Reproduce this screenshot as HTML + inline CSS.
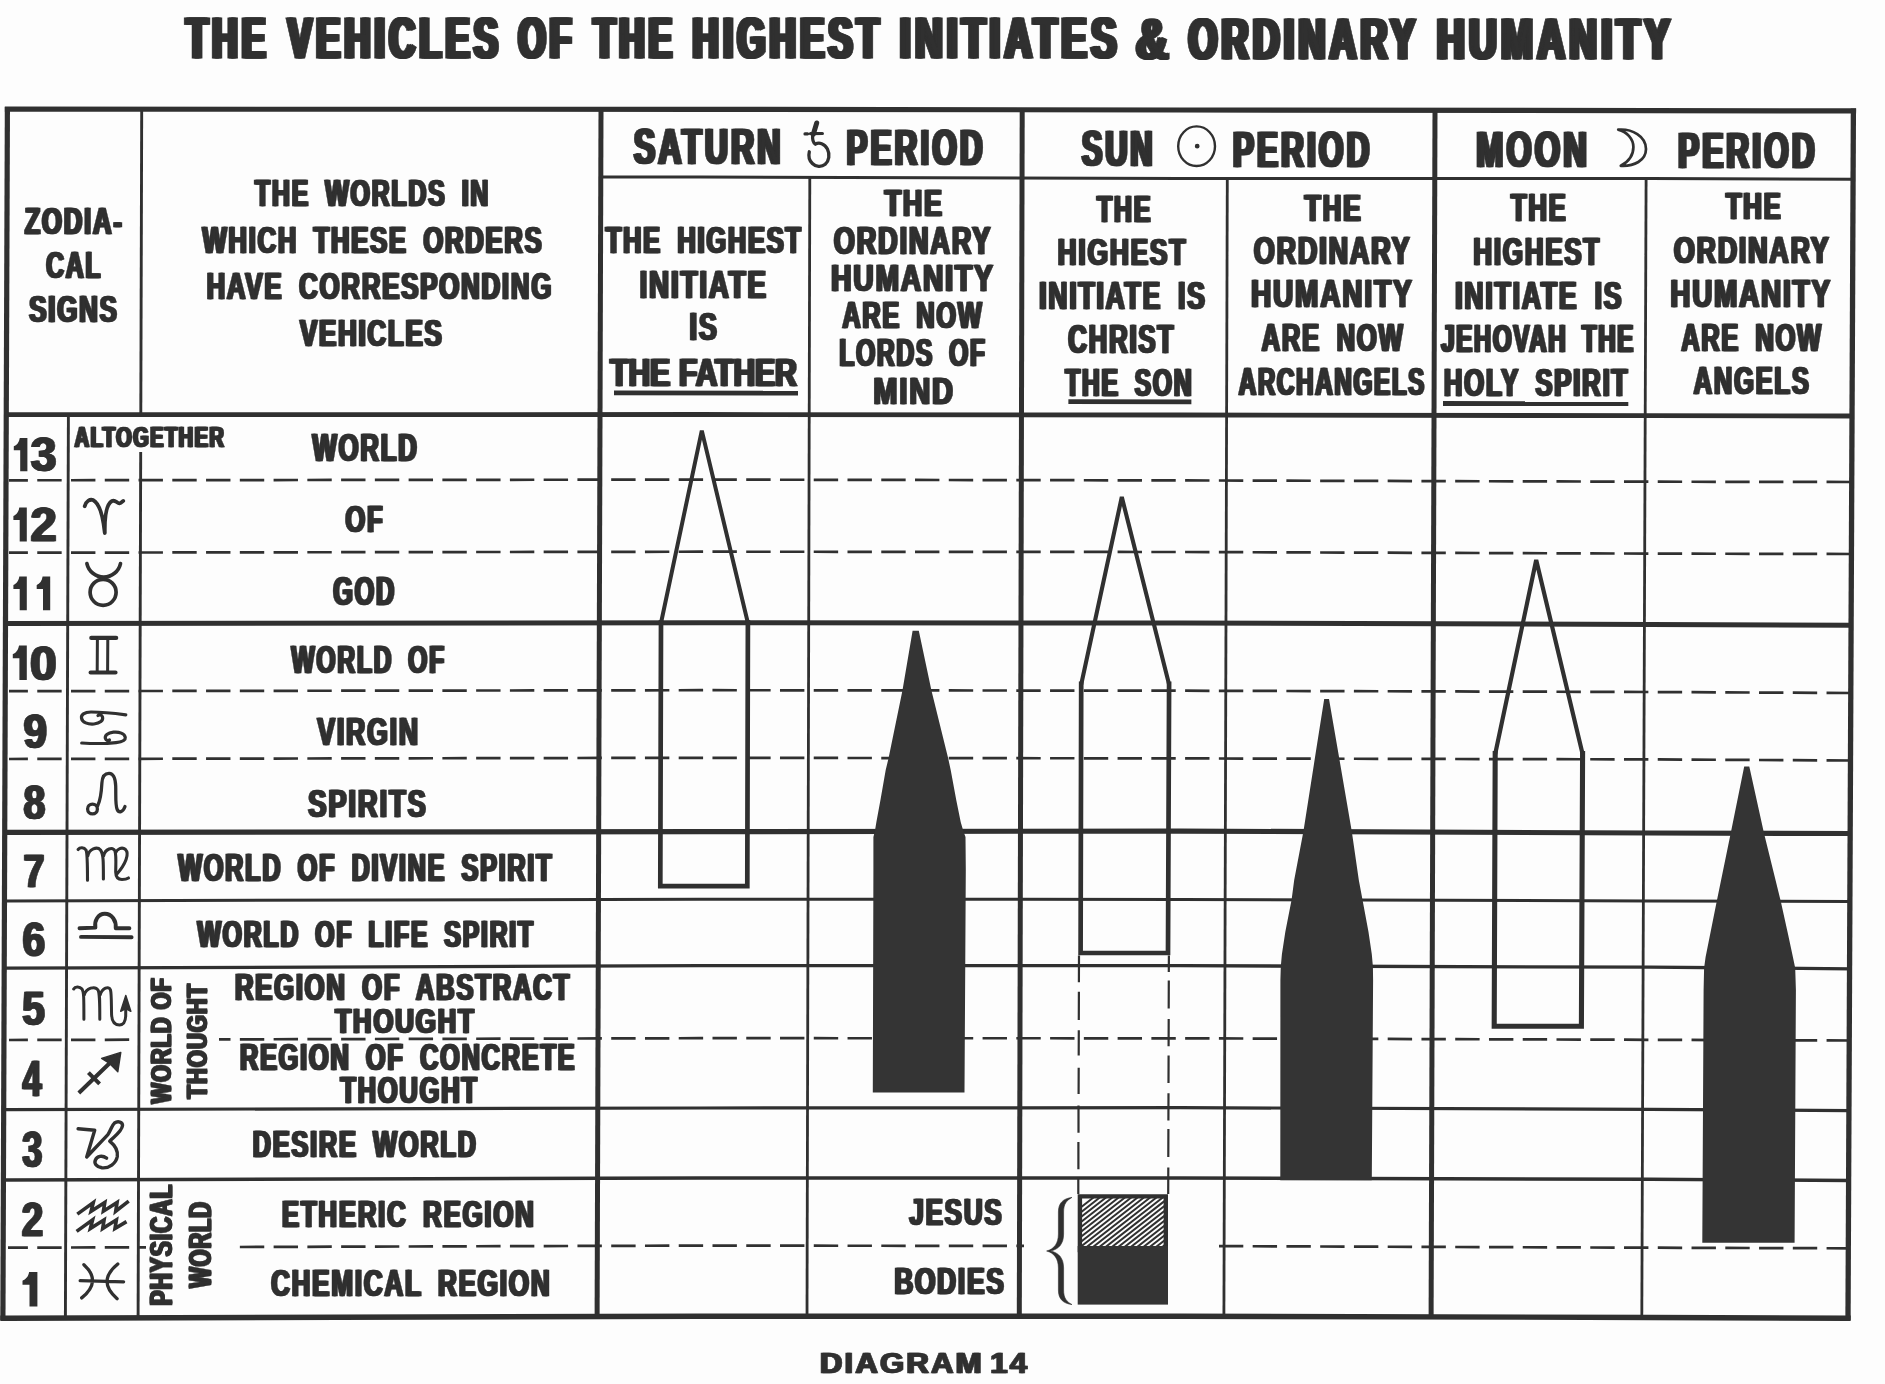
<!DOCTYPE html>
<html><head><meta charset="utf-8"><title>Diagram 14</title>
<style>html,body{margin:0;padding:0;background:#fdfdfd}body{width:1885px;height:1384px;overflow:hidden;font-family:"Liberation Sans",sans-serif}svg{display:block}</style>
</head><body>
<svg width="1885" height="1384" viewBox="0 0 1885 1384">
<defs><filter id="gs" filterUnits="userSpaceOnUse" x="0" y="0" width="1885" height="1384" color-interpolation-filters="sRGB"><feColorMatrix type="saturate" values="0"/></filter><filter id="soft" filterUnits="userSpaceOnUse" x="0" y="0" width="1885" height="1384" color-interpolation-filters="sRGB"><feGaussianBlur stdDeviation="0.45"/></filter></defs>
<rect width="1885" height="1384" fill="#fdfdfd"/>
<g filter="url(#soft)">

<g fill="none" stroke="#303030" stroke-linecap="butt">
<path d="M4.8,109.2 L5.0,109.2 L700.0,109.3 L1180.0,110.0 L1650.0,110.6 L1853.0,110.9 L1856.1,110.9" stroke-width="5.2"/>
<path d="M0.3,1318.2 L5.0,1318.2 L700.0,1316.2 L1180.0,1316.2 L1650.0,1317.5 L1850.7,1318.2" stroke-width="5.4"/>
<path d="M7.4,107.0 L2.9,1320.0" stroke-width="5.2"/>
<path d="M1853.4,108.5 L1848.0,1320.0" stroke-width="5.3"/>
<path d="M601.0,110.0 L597.1,1318.0" stroke-width="5"/>
<path d="M1022.2,110.0 L1019.3,1318.0" stroke-width="5"/>
<path d="M1435.0,110.0 L1431.1,1318.0" stroke-width="5"/>
<path d="M68.4,414.7 L65.4,1318.0" stroke-width="2.9"/>
<path d="M141.7,110.0 L140.8,414.7" stroke-width="2.9"/>
<path d="M140.7,452.0 L138.1,1318.0" stroke-width="2.9"/>
<path d="M809.8,177.4 L807.0,1318.0" stroke-width="2.8"/>
<path d="M1227.3,178.5 L1223.9,1318.0" stroke-width="2.8"/>
<path d="M1646.1,178.5 L1641.8,1318.0" stroke-width="2.8"/>
<path d="M601.0,177.1 L700.0,177.1 L1180.0,178.5 L1650.0,178.5 L1853.0,179.2" stroke-width="3"/>
<path d="M5.0,414.7 L700.0,414.5 L1180.0,415.0 L1650.0,415.7 L1853.0,416.0" stroke-width="4.8"/>
<path d="M5.0,623.4 L700.0,622.8 L1180.0,623.1 L1650.0,624.4 L1852.0,625.3" stroke-width="5"/>
<path d="M5.0,832.4 L700.0,831.6 L1180.0,831.1 L1650.0,833.0 L1851.0,833.5" stroke-width="5.2"/>
<path d="M5.0,901.0 L700.0,899.2 L1180.0,899.4 L1650.0,900.9 L1851.0,901.5" stroke-width="3"/>
<path d="M5.0,968.2 L700.0,965.7 L1180.0,965.7 L1650.0,967.2 L1851.0,968.8" stroke-width="3.3"/>
<path d="M4.0,1109.6 L5.0,1109.6 L700.0,1108.0 L1180.0,1107.7 L1650.0,1109.4 L1850.0,1110.6" stroke-width="3.2"/>
<path d="M4.0,1180.0 L5.0,1180.0 L700.0,1178.0 L1180.0,1178.0 L1650.0,1179.3 L1850.0,1180.5" stroke-width="3.4"/>
<path d="M9.0,480.3 L700.0,479.6 L1180.0,480.4 L1650.0,481.7 L1851.0,482.0" stroke-width="2.7" stroke-dasharray="24.4 9.36" stroke-dashoffset="5.5"/>
<path d="M9.0,552.7 L700.0,551.7 L1180.0,552.0 L1650.0,553.6 L1851.0,554.0" stroke-width="2.7" stroke-dasharray="24.4 9.36" stroke-dashoffset="5.5"/>
<path d="M9.0,691.2 L700.0,690.2 L1180.0,690.7 L1650.0,692.0 L1851.0,693.0" stroke-width="2.7" stroke-dasharray="24.4 9.36" stroke-dashoffset="5.5"/>
<path d="M9.0,759.0 L700.0,757.8 L1180.0,758.4 L1650.0,759.4 L1851.0,760.5" stroke-width="2.7" stroke-dasharray="24.4 9.36" stroke-dashoffset="5.5"/>
<path d="M9.0,1040.0 L139.0,1039.7" stroke-width="2.7" stroke-dasharray="24.4 9.36" stroke-dashoffset="5.5"/>
<path d="M219.0,1039.4 L700.0,1038.2 L1180.0,1038.3 L1650.0,1039.8 L1851.0,1040.5" stroke-width="2.7" stroke-dasharray="24.4 9.36" stroke-dashoffset="12.9"/>
<path d="M8.0,1247.7 L146.0,1247.3" stroke-width="2.7" stroke-dasharray="24.4 9.36" stroke-dashoffset="4.5"/>
<path d="M235.0,1247.0 L700.0,1245.6 L1024.0,1245.9" stroke-width="2.7" stroke-dasharray="24.4 9.36" stroke-dashoffset="28.9"/>
<path d="M1219.0,1246.1 L1650.0,1247.7 L1850.0,1248.3" stroke-width="2.7" stroke-dasharray="24.4 9.36" stroke-dashoffset="0.1"/>
</g>
<g fill="#343434" stroke="none">
<path d="M912.6,630.8 L918.8,630.8 L931.5,690.7 L948.1,758 L950.7,770 L956.2,799.7 L960.7,822 L963.3,830.9 L965.5,837 L965.8,870 L964.5,1092.6 L872.8,1092.6 L873.4,870 L873.4,837 L874.9,830.9 L876.4,822 L880.5,799.7 L885.7,770 L888.6,758 L902.4,690.7 Z"/>
<path d="M1324.2,699 L1329,699 L1339.2,758.1 L1351.8,831.5 L1358.8,880 L1362.5,899.7 L1368.5,932 L1371.8,954.3 L1372.9,966.6 L1373.1,980 L1371.8,1180.2 L1280.3,1180.2 L1280.4,980 L1280.8,966.6 L1281.9,954.3 L1285.3,932 L1291.6,899.7 L1294.2,880 L1303.4,831.5 L1314.9,758.1 Z"/>
<path d="M1744.2,766.6 L1749.3,766.6 L1764,833.2 L1780.7,901.1 L1788.1,934.6 L1792.9,956.9 L1795.2,968 L1795.9,990 L1794.6,1242.8 L1702.3,1242.8 L1703.6,990 L1704.1,968 L1705.6,956.9 L1710.1,934.6 L1716.8,901.1 L1730.7,833.2 Z"/>
</g>
<g fill="none" stroke="#303030" stroke-linejoin="miter" stroke-miterlimit="3">
<path d="M661,623 L701.8,430.6 L747.9,623" stroke-width="4.0"/>
<path d="M661,620 L660.3,886.2 L747.3,886.2 L747.9,620" stroke-width="4.7"/>
<path d="M1081.2,684.5 L1121.8,497 L1169.1,684.5" stroke-width="4.1"/>
<path d="M1081.2,681.5 L1080.6,953 L1168,953 L1169.1,681.5" stroke-width="4.7"/>
<path d="M1495.2,754 L1536.2,560 L1582.6,754" stroke-width="4.2"/>
<path d="M1495.2,751 L1494.2,1026.2 L1581.4,1026.2 L1582.6,751" stroke-width="5.1"/>
<path d="M1079,955.4 L1078.9,982.3 M1078.9,991.7 L1078.8,1019.9 M1078.8,1030.2 L1078.7,1055.6 M1078.7,1067.8 L1078.6,1094.1 M1078.5,1105.4 L1078.5,1132.7 M1078.4,1142.1 L1078.4,1169.3 M1078.3,1177.8 L1078.3,1194 M1168.9,955.4 L1168.8,972 M1168.8,980.4 L1168.7,1008.6 M1168.7,1019 L1168.6,1046.2 M1168.6,1055.6 L1168.5,1082.9 M1168.5,1093.2 L1168.4,1120.5 M1168.4,1128.9 L1168.3,1157.1 M1168.3,1167.4 L1168.2,1194" stroke-width="2.2"/>
</g>
<clipPath id="hc"><rect x="1080" y="1196" width="86" height="50"/></clipPath>
<path d="M1030,1247 L1094.1,1197 M1036.3,1247 L1100.4,1197 M1042.6,1247 L1106.7,1197 M1048.9,1247 L1113,1197 M1055.2,1247 L1119.3,1197 M1061.5,1247 L1125.6,1197 M1067.8,1247 L1131.9,1197 M1074.1,1247 L1138.2,1197 M1080.4,1247 L1144.5,1197 M1086.7,1247 L1150.8,1197 M1093,1247 L1157.1,1197 M1099.3,1247 L1163.4,1197 M1105.6,1247 L1169.7,1197 M1111.9,1247 L1176,1197 M1118.2,1247 L1182.3,1197 M1124.5,1247 L1188.6,1197 M1130.8,1247 L1194.9,1197 M1137.1,1247 L1201.2,1197 M1143.4,1247 L1207.5,1197 M1149.7,1247 L1213.8,1197 M1156,1247 L1220.1,1197 M1162.3,1247 L1226.4,1197 M1168.6,1247 L1232.7,1197 M1174.9,1247 L1239,1197" stroke="#303030" stroke-width="2.0" fill="none" clip-path="url(#hc)"/>
<path d="M1079.9,1196.4 L1165.8,1196.4 L1165.8,1250 L1079.9,1250 Z" fill="none" stroke="#303030" stroke-width="4.4"/>
<rect x="1077.7" y="1246" width="90.3" height="58.6" fill="#343434"/>
<path d="M1072,1197.4 C1063,1198.6 1058.4,1203 1058.4,1212 L1058.4,1234 C1058.4,1243 1054.5,1249 1046.6,1251 C1054.5,1253 1058.4,1259 1058.4,1268 L1058.4,1290 C1058.4,1299 1063,1303.4 1072,1304.6 C1066.4,1301.5 1063.6,1298 1063.6,1290 L1063.6,1268 C1063.6,1258 1058.6,1252.6 1050.5,1251 C1058.6,1249.4 1063.6,1244 1063.6,1234 L1063.6,1212 C1063.6,1204 1066.4,1200.5 1072,1197.4 Z" fill="#303030" stroke="#303030" stroke-width="0.6"/>
<g stroke="#303030" stroke-width="4.8" fill="none">
<path d="M614,392.9 L798,393.1"/><path d="M1068.4,401.7 L1191.4,401.9"/><path d="M1443,403.5 L1628.3,403.7"/>
</g>
<g fill="none" stroke="#303030" stroke-linecap="round" stroke-linejoin="round">
<path d="M816.7,123 L813.4,134" stroke-width="5"/>
<path d="M805,133.9 L807.6,133.8 M810.5,133.7 L822.4,133.5" stroke-width="3.2"/>
<path d="M812.7,135 C812.2,139.5 813,142.5 815.4,144.2 C819,141.8 824.6,143.6 827.4,149 C830.2,154.6 829,160.8 825.2,164.3 C821.5,167.4 815.8,166.9 812.4,163.5 C809.4,160.6 808.2,156.4 809.3,151.8" stroke-width="3.3"/>
<ellipse cx="1196.6" cy="146.2" rx="18.4" ry="19.8" stroke-width="2.4"/>
<circle cx="1197.2" cy="146.2" r="1.2" stroke-width="2.4" fill="#303030"/>
<path d="M1618.2,129.6 C1632,128.5 1646,136 1646,149 C1646,160.5 1634,166.5 1620.8,165.8 C1628,162 1633.4,156 1633.4,147 C1633.4,139 1627,131.8 1618.2,129.6 Z" stroke-width="2.7"/>
</g>
<g fill="none" stroke="#303030" stroke-width="3.6" stroke-linecap="round" stroke-linejoin="round">
<path d="M84.7,506.2 C86,501 90,499 93,500 C99,503 103,516 104.8,533 C104.5,516 106.5,504 112,501 C115.5,499.5 117,503.5 119.5,503.3 C121,503.2 122,502 123.2,500.9" stroke-width="3.8"/>
<circle cx="103.1" cy="592.3" r="13" stroke-width="3.7"/><path d="M86.9,563.6 A17.2,17.2 0 0 0 120.5,563.6" stroke-width="3.7"/>
<path d="M91.3,637.9 L116.2,637.9 M90.6,672.5 L115.5,672.5" stroke-width="4.2"/><path d="M97.4,638 L97.2,672 M107.8,638 L107.6,672" stroke-width="3"/>
<path d="M125.8,714.8 C112,713 100,712 91,712 C84,712 81,715 81.5,718 C82,722.5 88,724.5 94,724 C100,723.4 103.5,720.5 102.5,717 C101.8,714.8 99.5,714.5 98,715.5" stroke-width="3.2"/>
<path d="M81.7,743 C95,743.8 107,743.6 116,742.6 C122.5,741.8 125.6,740 125.3,737.5 C124.8,733.5 119,731.6 113.5,732.2 C107.5,732.8 104.5,735.5 105.4,738.6 C106,740.6 108,740.8 109.5,740" stroke-width="3.2"/>
<circle cx="92.5" cy="809" r="4.9" stroke-width="3.3"/><path d="M97.6,806 C100.5,800 101.5,791 101.9,783 C102.3,776 105,773.2 109.2,773.3 C113.5,773.5 115.4,778 115.7,786 C116,796 115.2,805 117.2,809.5 C118.8,813 123,812.5 125,806.5" stroke-width="3.3"/>
<path d="M78.1,849.5 C80,847 84,847 86,850 C87.5,853 87.5,860 87.5,880.3 M87.8,856 C89,849 97,846 100.5,850 C103.5,854 103.4,862 103.4,878.9 M103.6,856 C105,849 113,846 115,851 C116.5,856 115.7,866 115.7,872 C115.8,877 118,879.5 122,879.5 C125,879.5 127,879 128.5,878 M115.5,853 C117,849 122,846.5 125.5,849.5 C129.5,853.5 126,864 116.5,874.5" stroke-width="3.1"/>
<path d="M79.5,928.2 L95.4,927.6 C94,921 98,913.7 104.8,913.7 C112,913.7 116.5,921 115.7,928.2 L129.4,928.2 M81,936.9 L131.6,937.3" stroke-width="3.9"/>
<path d="M73.7,989 C75,986.5 79.5,986 82,989 C83.9,992 83.9,998 83.9,1019.3 M84.3,995 C86,988 95,985.5 98,990 C99.8,993 99.8,999 99.8,1019.3 M100.2,995 C102,988 109,985.5 110.5,990 C111.6,994 111.3,1005 111.6,1015 C112,1022 115,1025 119.5,1025 C123.5,1024.8 125.5,1021 125.7,1016 L125.8,1004" stroke-width="3.0"/>
<path d="M125.8,995.4 L120.7,1011.3 L125.8,1008.5 L130.8,1011.3 Z" fill="#303030" stroke-width="1.5"/>
<path d="M78.8,1093 L115,1058 M88.4,1072.6 L99.6,1083.8" stroke-width="4" stroke-linecap="butt"/>
<path d="M120.8,1052.4 L101.6,1058.4 L109.6,1063.4 L117.8,1071.8 Z" fill="#303030" stroke-width="1.4"/>
<path d="M78.1,1128.8 L94.7,1130.2 L86.7,1157 L107.9,1134.6 C111,1130 112,1125 114.5,1123 C118,1120.5 122.8,1122 122.5,1125.6 C122,1131 115,1136 109.7,1141.1 C114.5,1145 118.2,1150 117.3,1156.5 C116,1163.5 109,1168.5 101.9,1167.8 C96.5,1167 93.8,1163.5 95.4,1160 C97,1156.3 102,1154.8 106.6,1158.2" stroke-width="3.4"/>
<path d="M77.3,1214.1 L93.3,1202.5 L91.1,1211.2 L104.8,1202.5 L103.4,1211.2 L117.1,1202.5 L115.7,1211.2 L128.7,1201.1 M76.6,1231.4 L92.6,1219.8 L90.4,1228.5 L104.1,1219.8 L102.7,1228.5 L116.4,1219.8 L115,1228.5 L126.5,1221.6" stroke-width="3.6" stroke-linejoin="miter" stroke-linecap="butt"/>
<path d="M83.9,1264.7 Q102.2,1281.3 81.7,1297.9 M117.8,1264 Q96.6,1281.3 117.1,1298.7 M80.2,1280.6 L123.6,1281.8" stroke-width="3.3"/>
</g>
<path d="M20.2,438 L27.4,438 L27.4,471.3 L20.2,471.3 L20.2,450.3 L13.8,450.3 L13.8,446.3 C16.7,445.3 19.2,442.3 19.8,438 Z M19.7,507.6 L26.8,507.6 L26.8,541.4 L19.7,541.4 L19.7,520.1 L13.4,520.1 L13.4,516 C16.2,515 18.8,512 19.3,507.6 Z M19.7,576.5 L26.8,576.5 L26.8,610.3 L19.7,610.3 L19.7,589 L13.4,589 L13.4,585 C16.2,583.9 18.8,580.9 19.3,576.5 Z M43,576.5 L50.2,576.5 L50.2,610.3 L43,610.3 L43,589 L36.7,589 L36.7,585 C39.6,583.9 42.1,580.9 42.6,576.5 Z M19.4,645.4 L26.8,645.4 L26.8,679.9 L19.4,679.9 L19.4,658.2 L12.8,658.2 L12.8,654 C15.8,653 18.4,649.9 19,645.4 Z M29.5,1272.1 L37.4,1272.1 L37.4,1306.4 L29.5,1306.4 L29.5,1284.8 L22.5,1284.8 L22.5,1280.7 C25.7,1279.6 28.5,1276.6 29.1,1272.1 Z" fill="#303030"/>
<g filter="url(#gs)" fill="#303030" stroke="#303030" stroke-linejoin="miter" font-family="Liberation Sans, sans-serif" font-weight="700">
<text x="183.87" y="57.69" font-size="56.59" textLength="83.51" lengthAdjust="spacingAndGlyphs" stroke-width="0.80" letter-spacing="6.79">THE</text>
<text x="185.47" y="57.69" font-size="56.59" textLength="83.51" lengthAdjust="spacingAndGlyphs" stroke-width="0.80" letter-spacing="6.79">THE</text>
<text x="187.07" y="57.69" font-size="56.59" textLength="83.51" lengthAdjust="spacingAndGlyphs" stroke-width="0.80" letter-spacing="6.79">THE</text>
<text x="188.67" y="57.69" font-size="56.59" textLength="83.51" lengthAdjust="spacingAndGlyphs" stroke-width="0.80" letter-spacing="6.79">THE</text>
<text x="285.51" y="57.61" font-size="57.30" textLength="214.23" lengthAdjust="spacingAndGlyphs" stroke-width="0.80" letter-spacing="6.88">VEHICLES</text>
<text x="287.11" y="57.61" font-size="57.30" textLength="214.23" lengthAdjust="spacingAndGlyphs" stroke-width="0.80" letter-spacing="6.88">VEHICLES</text>
<text x="288.71" y="57.61" font-size="57.30" textLength="214.23" lengthAdjust="spacingAndGlyphs" stroke-width="0.80" letter-spacing="6.88">VEHICLES</text>
<text x="290.31" y="57.61" font-size="57.30" textLength="214.23" lengthAdjust="spacingAndGlyphs" stroke-width="0.80" letter-spacing="6.88">VEHICLES</text>
<text x="515.89" y="57.51" font-size="57.10" textLength="57.11" lengthAdjust="spacingAndGlyphs" stroke-width="0.80" letter-spacing="6.85">OF</text>
<text x="517.49" y="57.51" font-size="57.10" textLength="57.11" lengthAdjust="spacingAndGlyphs" stroke-width="0.80" letter-spacing="6.85">OF</text>
<text x="519.09" y="57.51" font-size="57.10" textLength="57.11" lengthAdjust="spacingAndGlyphs" stroke-width="0.80" letter-spacing="6.85">OF</text>
<text x="520.69" y="57.51" font-size="57.10" textLength="57.11" lengthAdjust="spacingAndGlyphs" stroke-width="0.80" letter-spacing="6.85">OF</text>
<text x="591.33" y="57.65" font-size="56.66" textLength="82.35" lengthAdjust="spacingAndGlyphs" stroke-width="0.80" letter-spacing="6.80">THE</text>
<text x="592.93" y="57.65" font-size="56.66" textLength="82.35" lengthAdjust="spacingAndGlyphs" stroke-width="0.80" letter-spacing="6.80">THE</text>
<text x="594.53" y="57.65" font-size="56.66" textLength="82.35" lengthAdjust="spacingAndGlyphs" stroke-width="0.80" letter-spacing="6.80">THE</text>
<text x="596.13" y="57.65" font-size="56.66" textLength="82.35" lengthAdjust="spacingAndGlyphs" stroke-width="0.80" letter-spacing="6.80">THE</text>
<text x="690.32" y="58.02" font-size="56.57" textLength="190.43" lengthAdjust="spacingAndGlyphs" stroke-width="0.80" letter-spacing="6.79">HIGHEST</text>
<text x="691.92" y="58.02" font-size="56.57" textLength="190.43" lengthAdjust="spacingAndGlyphs" stroke-width="0.80" letter-spacing="6.79">HIGHEST</text>
<text x="693.52" y="58.02" font-size="56.57" textLength="190.43" lengthAdjust="spacingAndGlyphs" stroke-width="0.80" letter-spacing="6.79">HIGHEST</text>
<text x="695.12" y="58.02" font-size="56.57" textLength="190.43" lengthAdjust="spacingAndGlyphs" stroke-width="0.80" letter-spacing="6.79">HIGHEST</text>
<text x="897.59" y="58.27" font-size="56.55" textLength="221.03" lengthAdjust="spacingAndGlyphs" stroke-width="0.80" letter-spacing="6.79">INITIATES</text>
<text x="899.19" y="58.27" font-size="56.55" textLength="221.03" lengthAdjust="spacingAndGlyphs" stroke-width="0.80" letter-spacing="6.79">INITIATES</text>
<text x="900.79" y="58.27" font-size="56.55" textLength="221.03" lengthAdjust="spacingAndGlyphs" stroke-width="0.80" letter-spacing="6.79">INITIATES</text>
<text x="902.39" y="58.27" font-size="56.55" textLength="221.03" lengthAdjust="spacingAndGlyphs" stroke-width="0.80" letter-spacing="6.79">INITIATES</text>
<text x="1133.76" y="58.57" font-size="57.88" textLength="37.40" lengthAdjust="spacingAndGlyphs" stroke-width="0.80" letter-spacing="6.95">&amp;</text>
<text x="1135.36" y="58.57" font-size="57.88" textLength="37.40" lengthAdjust="spacingAndGlyphs" stroke-width="0.80" letter-spacing="6.95">&amp;</text>
<text x="1136.96" y="58.57" font-size="57.88" textLength="37.40" lengthAdjust="spacingAndGlyphs" stroke-width="0.80" letter-spacing="6.95">&amp;</text>
<text x="1138.56" y="58.57" font-size="57.88" textLength="37.40" lengthAdjust="spacingAndGlyphs" stroke-width="0.80" letter-spacing="6.95">&amp;</text>
<text x="1186.25" y="59.13" font-size="57.34" textLength="230.69" lengthAdjust="spacingAndGlyphs" stroke-width="0.80" letter-spacing="6.88">ORDINARY</text>
<text x="1187.85" y="59.13" font-size="57.34" textLength="230.69" lengthAdjust="spacingAndGlyphs" stroke-width="0.80" letter-spacing="6.88">ORDINARY</text>
<text x="1189.45" y="59.13" font-size="57.34" textLength="230.69" lengthAdjust="spacingAndGlyphs" stroke-width="0.80" letter-spacing="6.88">ORDINARY</text>
<text x="1191.05" y="59.13" font-size="57.34" textLength="230.69" lengthAdjust="spacingAndGlyphs" stroke-width="0.80" letter-spacing="6.88">ORDINARY</text>
<text x="1434.58" y="59.31" font-size="57.22" textLength="237.45" lengthAdjust="spacingAndGlyphs" stroke-width="0.80" letter-spacing="6.87">HUMANITY</text>
<text x="1436.18" y="59.31" font-size="57.22" textLength="237.45" lengthAdjust="spacingAndGlyphs" stroke-width="0.80" letter-spacing="6.87">HUMANITY</text>
<text x="1437.78" y="59.31" font-size="57.22" textLength="237.45" lengthAdjust="spacingAndGlyphs" stroke-width="0.80" letter-spacing="6.87">HUMANITY</text>
<text x="1439.38" y="59.31" font-size="57.22" textLength="237.45" lengthAdjust="spacingAndGlyphs" stroke-width="0.80" letter-spacing="6.87">HUMANITY</text>
<text x="23.42" y="233.55" font-size="36.62" textLength="99.06" lengthAdjust="spacingAndGlyphs" stroke-width="0.50" letter-spacing="2.56" word-spacing="9.52">ZODIA-</text>
<text x="24.57" y="233.55" font-size="36.62" textLength="99.06" lengthAdjust="spacingAndGlyphs" stroke-width="0.50" letter-spacing="2.56" word-spacing="9.52">ZODIA-</text>
<text x="25.72" y="233.55" font-size="36.62" textLength="99.06" lengthAdjust="spacingAndGlyphs" stroke-width="0.50" letter-spacing="2.56" word-spacing="9.52">ZODIA-</text>
<text x="45.03" y="277.51" font-size="36.85" textLength="56.06" lengthAdjust="spacingAndGlyphs" stroke-width="0.50" letter-spacing="2.58" word-spacing="9.58">CAL</text>
<text x="46.18" y="277.51" font-size="36.85" textLength="56.06" lengthAdjust="spacingAndGlyphs" stroke-width="0.50" letter-spacing="2.58" word-spacing="9.58">CAL</text>
<text x="47.33" y="277.51" font-size="36.85" textLength="56.06" lengthAdjust="spacingAndGlyphs" stroke-width="0.50" letter-spacing="2.58" word-spacing="9.58">CAL</text>
<text x="28.09" y="321.76" font-size="37.05" textLength="89.38" lengthAdjust="spacingAndGlyphs" stroke-width="0.50" letter-spacing="2.59" word-spacing="9.63">SIGNS</text>
<text x="29.24" y="321.76" font-size="37.05" textLength="89.38" lengthAdjust="spacingAndGlyphs" stroke-width="0.50" letter-spacing="2.59" word-spacing="9.63">SIGNS</text>
<text x="30.39" y="321.76" font-size="37.05" textLength="89.38" lengthAdjust="spacingAndGlyphs" stroke-width="0.50" letter-spacing="2.59" word-spacing="9.63">SIGNS</text>
<text x="253.78" y="206.41" font-size="37.45" textLength="235.26" lengthAdjust="spacingAndGlyphs" stroke-width="0.50" letter-spacing="2.62" word-spacing="9.74">THE WORLDS IN</text>
<text x="254.93" y="206.41" font-size="37.45" textLength="235.26" lengthAdjust="spacingAndGlyphs" stroke-width="0.50" letter-spacing="2.62" word-spacing="9.74">THE WORLDS IN</text>
<text x="256.08" y="206.41" font-size="37.45" textLength="235.26" lengthAdjust="spacingAndGlyphs" stroke-width="0.50" letter-spacing="2.62" word-spacing="9.74">THE WORLDS IN</text>
<text x="201.35" y="252.57" font-size="36.43" textLength="340.95" lengthAdjust="spacingAndGlyphs" stroke-width="0.50" letter-spacing="2.55" word-spacing="9.47">WHICH THESE ORDERS</text>
<text x="202.50" y="252.57" font-size="36.43" textLength="340.95" lengthAdjust="spacingAndGlyphs" stroke-width="0.50" letter-spacing="2.55" word-spacing="9.47">WHICH THESE ORDERS</text>
<text x="203.65" y="252.57" font-size="36.43" textLength="340.95" lengthAdjust="spacingAndGlyphs" stroke-width="0.50" letter-spacing="2.55" word-spacing="9.47">WHICH THESE ORDERS</text>
<text x="205.39" y="299.28" font-size="37.17" textLength="346.63" lengthAdjust="spacingAndGlyphs" stroke-width="0.50" letter-spacing="2.60" word-spacing="9.66">HAVE CORRESPONDING</text>
<text x="206.54" y="299.28" font-size="37.17" textLength="346.63" lengthAdjust="spacingAndGlyphs" stroke-width="0.50" letter-spacing="2.60" word-spacing="9.66">HAVE CORRESPONDING</text>
<text x="207.69" y="299.28" font-size="37.17" textLength="346.63" lengthAdjust="spacingAndGlyphs" stroke-width="0.50" letter-spacing="2.60" word-spacing="9.66">HAVE CORRESPONDING</text>
<text x="298.85" y="345.99" font-size="36.45" textLength="143.53" lengthAdjust="spacingAndGlyphs" stroke-width="0.50" letter-spacing="2.55" word-spacing="9.48">VEHICLES</text>
<text x="300.00" y="345.99" font-size="36.45" textLength="143.53" lengthAdjust="spacingAndGlyphs" stroke-width="0.50" letter-spacing="2.55" word-spacing="9.48">VEHICLES</text>
<text x="301.15" y="345.99" font-size="36.45" textLength="143.53" lengthAdjust="spacingAndGlyphs" stroke-width="0.50" letter-spacing="2.55" word-spacing="9.48">VEHICLES</text>
<text x="632.21" y="164.28" font-size="50.07" textLength="149.85" lengthAdjust="spacingAndGlyphs" stroke-width="0.70" letter-spacing="5.01">SATURN</text>
<text x="633.81" y="164.28" font-size="50.07" textLength="149.85" lengthAdjust="spacingAndGlyphs" stroke-width="0.70" letter-spacing="5.01">SATURN</text>
<text x="635.41" y="164.28" font-size="50.07" textLength="149.85" lengthAdjust="spacingAndGlyphs" stroke-width="0.70" letter-spacing="5.01">SATURN</text>
<text x="844.91" y="164.55" font-size="50.18" textLength="139.26" lengthAdjust="spacingAndGlyphs" stroke-width="0.70" letter-spacing="5.02">PERIOD</text>
<text x="846.51" y="164.55" font-size="50.18" textLength="139.26" lengthAdjust="spacingAndGlyphs" stroke-width="0.70" letter-spacing="5.02">PERIOD</text>
<text x="848.11" y="164.55" font-size="50.18" textLength="139.26" lengthAdjust="spacingAndGlyphs" stroke-width="0.70" letter-spacing="5.02">PERIOD</text>
<text x="1080.25" y="166.43" font-size="49.73" textLength="73.73" lengthAdjust="spacingAndGlyphs" stroke-width="0.70" letter-spacing="4.97">SUN</text>
<text x="1081.85" y="166.43" font-size="49.73" textLength="73.73" lengthAdjust="spacingAndGlyphs" stroke-width="0.70" letter-spacing="4.97">SUN</text>
<text x="1083.45" y="166.43" font-size="49.73" textLength="73.73" lengthAdjust="spacingAndGlyphs" stroke-width="0.70" letter-spacing="4.97">SUN</text>
<text x="1231.22" y="166.65" font-size="49.11" textLength="139.68" lengthAdjust="spacingAndGlyphs" stroke-width="0.70" letter-spacing="4.91">PERIOD</text>
<text x="1232.82" y="166.65" font-size="49.11" textLength="139.68" lengthAdjust="spacingAndGlyphs" stroke-width="0.70" letter-spacing="4.91">PERIOD</text>
<text x="1234.42" y="166.65" font-size="49.11" textLength="139.68" lengthAdjust="spacingAndGlyphs" stroke-width="0.70" letter-spacing="4.91">PERIOD</text>
<text x="1474.74" y="167.20" font-size="49.95" textLength="113.59" lengthAdjust="spacingAndGlyphs" stroke-width="0.70" letter-spacing="4.99">MOON</text>
<text x="1476.34" y="167.20" font-size="49.95" textLength="113.59" lengthAdjust="spacingAndGlyphs" stroke-width="0.70" letter-spacing="4.99">MOON</text>
<text x="1477.94" y="167.20" font-size="49.95" textLength="113.59" lengthAdjust="spacingAndGlyphs" stroke-width="0.70" letter-spacing="4.99">MOON</text>
<text x="1676.54" y="167.65" font-size="49.40" textLength="139.63" lengthAdjust="spacingAndGlyphs" stroke-width="0.70" letter-spacing="4.94">PERIOD</text>
<text x="1678.14" y="167.65" font-size="49.40" textLength="139.63" lengthAdjust="spacingAndGlyphs" stroke-width="0.70" letter-spacing="4.94">PERIOD</text>
<text x="1679.74" y="167.65" font-size="49.40" textLength="139.63" lengthAdjust="spacingAndGlyphs" stroke-width="0.70" letter-spacing="4.94">PERIOD</text>
<text x="604.60" y="252.54" font-size="36.99" textLength="197.02" lengthAdjust="spacingAndGlyphs" stroke-width="0.50" letter-spacing="2.59" word-spacing="9.62">THE HIGHEST</text>
<text x="605.75" y="252.54" font-size="36.99" textLength="197.02" lengthAdjust="spacingAndGlyphs" stroke-width="0.50" letter-spacing="2.59" word-spacing="9.62">THE HIGHEST</text>
<text x="606.90" y="252.54" font-size="36.99" textLength="197.02" lengthAdjust="spacingAndGlyphs" stroke-width="0.50" letter-spacing="2.59" word-spacing="9.62">THE HIGHEST</text>
<text x="638.39" y="297.51" font-size="39.57" textLength="128.32" lengthAdjust="spacingAndGlyphs" stroke-width="0.50" letter-spacing="2.77" word-spacing="10.29">INITIATE</text>
<text x="639.54" y="297.51" font-size="39.57" textLength="128.32" lengthAdjust="spacingAndGlyphs" stroke-width="0.50" letter-spacing="2.77" word-spacing="10.29">INITIATE</text>
<text x="640.69" y="297.51" font-size="39.57" textLength="128.32" lengthAdjust="spacingAndGlyphs" stroke-width="0.50" letter-spacing="2.77" word-spacing="10.29">INITIATE</text>
<text x="688.33" y="339.79" font-size="37.89" textLength="29.34" lengthAdjust="spacingAndGlyphs" stroke-width="0.50" letter-spacing="2.65" word-spacing="9.85">IS</text>
<text x="689.48" y="339.79" font-size="37.89" textLength="29.34" lengthAdjust="spacingAndGlyphs" stroke-width="0.50" letter-spacing="2.65" word-spacing="9.85">IS</text>
<text x="690.63" y="339.79" font-size="37.89" textLength="29.34" lengthAdjust="spacingAndGlyphs" stroke-width="0.50" letter-spacing="2.65" word-spacing="9.85">IS</text>
<text x="608.84" y="386.49" font-size="39.38" textLength="186.68" lengthAdjust="spacingAndGlyphs" stroke-width="0.50" word-spacing="0.79">THE FATHER</text>
<text x="610.14" y="386.49" font-size="39.38" textLength="186.68" lengthAdjust="spacingAndGlyphs" stroke-width="0.50" word-spacing="0.79">THE FATHER</text>
<text x="611.44" y="386.49" font-size="39.38" textLength="186.68" lengthAdjust="spacingAndGlyphs" stroke-width="0.50" word-spacing="0.79">THE FATHER</text>
<text x="883.59" y="215.68" font-size="36.69" textLength="59.22" lengthAdjust="spacingAndGlyphs" stroke-width="0.50" letter-spacing="2.57" word-spacing="9.54">THE</text>
<text x="884.74" y="215.68" font-size="36.69" textLength="59.22" lengthAdjust="spacingAndGlyphs" stroke-width="0.50" letter-spacing="2.57" word-spacing="9.54">THE</text>
<text x="885.89" y="215.68" font-size="36.69" textLength="59.22" lengthAdjust="spacingAndGlyphs" stroke-width="0.50" letter-spacing="2.57" word-spacing="9.54">THE</text>
<text x="832.68" y="253.70" font-size="38.50" textLength="158.35" lengthAdjust="spacingAndGlyphs" stroke-width="0.50" letter-spacing="2.69" word-spacing="10.01">ORDINARY</text>
<text x="833.83" y="253.70" font-size="38.50" textLength="158.35" lengthAdjust="spacingAndGlyphs" stroke-width="0.50" letter-spacing="2.69" word-spacing="10.01">ORDINARY</text>
<text x="834.98" y="253.70" font-size="38.50" textLength="158.35" lengthAdjust="spacingAndGlyphs" stroke-width="0.50" letter-spacing="2.69" word-spacing="10.01">ORDINARY</text>
<text x="830.09" y="290.69" font-size="37.24" textLength="163.48" lengthAdjust="spacingAndGlyphs" stroke-width="0.50" letter-spacing="2.61" word-spacing="9.68">HUMANITY</text>
<text x="831.24" y="290.69" font-size="37.24" textLength="163.48" lengthAdjust="spacingAndGlyphs" stroke-width="0.50" letter-spacing="2.61" word-spacing="9.68">HUMANITY</text>
<text x="832.39" y="290.69" font-size="37.24" textLength="163.48" lengthAdjust="spacingAndGlyphs" stroke-width="0.50" letter-spacing="2.61" word-spacing="9.68">HUMANITY</text>
<text x="841.21" y="327.60" font-size="36.60" textLength="141.07" lengthAdjust="spacingAndGlyphs" stroke-width="0.50" letter-spacing="2.56" word-spacing="9.52">ARE NOW</text>
<text x="842.36" y="327.60" font-size="36.60" textLength="141.07" lengthAdjust="spacingAndGlyphs" stroke-width="0.50" letter-spacing="2.56" word-spacing="9.52">ARE NOW</text>
<text x="843.51" y="327.60" font-size="36.60" textLength="141.07" lengthAdjust="spacingAndGlyphs" stroke-width="0.50" letter-spacing="2.56" word-spacing="9.52">ARE NOW</text>
<text x="838.15" y="365.72" font-size="39.58" textLength="147.41" lengthAdjust="spacingAndGlyphs" stroke-width="0.50" letter-spacing="2.77" word-spacing="10.29">LORDS OF</text>
<text x="839.30" y="365.72" font-size="39.58" textLength="147.41" lengthAdjust="spacingAndGlyphs" stroke-width="0.50" letter-spacing="2.77" word-spacing="10.29">LORDS OF</text>
<text x="840.45" y="365.72" font-size="39.58" textLength="147.41" lengthAdjust="spacingAndGlyphs" stroke-width="0.50" letter-spacing="2.77" word-spacing="10.29">LORDS OF</text>
<text x="872.16" y="403.73" font-size="37.68" textLength="81.72" lengthAdjust="spacingAndGlyphs" stroke-width="0.50" letter-spacing="2.64" word-spacing="9.80">MIND</text>
<text x="873.31" y="403.73" font-size="37.68" textLength="81.72" lengthAdjust="spacingAndGlyphs" stroke-width="0.50" letter-spacing="2.64" word-spacing="9.80">MIND</text>
<text x="874.46" y="403.73" font-size="37.68" textLength="81.72" lengthAdjust="spacingAndGlyphs" stroke-width="0.50" letter-spacing="2.64" word-spacing="9.80">MIND</text>
<text x="1095.81" y="221.75" font-size="37.34" textLength="55.24" lengthAdjust="spacingAndGlyphs" stroke-width="0.50" letter-spacing="2.61" word-spacing="9.71">THE</text>
<text x="1096.96" y="221.75" font-size="37.34" textLength="55.24" lengthAdjust="spacingAndGlyphs" stroke-width="0.50" letter-spacing="2.61" word-spacing="9.71">THE</text>
<text x="1098.11" y="221.75" font-size="37.34" textLength="55.24" lengthAdjust="spacingAndGlyphs" stroke-width="0.50" letter-spacing="2.61" word-spacing="9.71">THE</text>
<text x="1056.44" y="265.19" font-size="36.94" textLength="129.61" lengthAdjust="spacingAndGlyphs" stroke-width="0.50" letter-spacing="2.59" word-spacing="9.60">HIGHEST</text>
<text x="1057.59" y="265.19" font-size="36.94" textLength="129.61" lengthAdjust="spacingAndGlyphs" stroke-width="0.50" letter-spacing="2.59" word-spacing="9.60">HIGHEST</text>
<text x="1058.74" y="265.19" font-size="36.94" textLength="129.61" lengthAdjust="spacingAndGlyphs" stroke-width="0.50" letter-spacing="2.59" word-spacing="9.60">HIGHEST</text>
<text x="1038.11" y="308.64" font-size="38.25" textLength="167.44" lengthAdjust="spacingAndGlyphs" stroke-width="0.50" letter-spacing="2.68" word-spacing="9.95">INITIATE IS</text>
<text x="1039.26" y="308.64" font-size="38.25" textLength="167.44" lengthAdjust="spacingAndGlyphs" stroke-width="0.50" letter-spacing="2.68" word-spacing="9.95">INITIATE IS</text>
<text x="1040.41" y="308.64" font-size="38.25" textLength="167.44" lengthAdjust="spacingAndGlyphs" stroke-width="0.50" letter-spacing="2.68" word-spacing="9.95">INITIATE IS</text>
<text x="1067.09" y="352.61" font-size="41.33" textLength="106.80" lengthAdjust="spacingAndGlyphs" stroke-width="0.50" letter-spacing="2.89" word-spacing="10.75">CHRIST</text>
<text x="1068.24" y="352.61" font-size="41.33" textLength="106.80" lengthAdjust="spacingAndGlyphs" stroke-width="0.50" letter-spacing="2.89" word-spacing="10.75">CHRIST</text>
<text x="1069.39" y="352.61" font-size="41.33" textLength="106.80" lengthAdjust="spacingAndGlyphs" stroke-width="0.50" letter-spacing="2.89" word-spacing="10.75">CHRIST</text>
<text x="1064.01" y="395.64" font-size="38.35" textLength="128.14" lengthAdjust="spacingAndGlyphs" stroke-width="0.50" letter-spacing="2.68" word-spacing="9.97">THE SON</text>
<text x="1065.16" y="395.64" font-size="38.35" textLength="128.14" lengthAdjust="spacingAndGlyphs" stroke-width="0.50" letter-spacing="2.68" word-spacing="9.97">THE SON</text>
<text x="1066.31" y="395.64" font-size="38.35" textLength="128.14" lengthAdjust="spacingAndGlyphs" stroke-width="0.50" letter-spacing="2.68" word-spacing="9.97">THE SON</text>
<text x="1303.59" y="220.69" font-size="37.17" textLength="57.77" lengthAdjust="spacingAndGlyphs" stroke-width="0.50" letter-spacing="2.60" word-spacing="9.66">THE</text>
<text x="1304.74" y="220.69" font-size="37.17" textLength="57.77" lengthAdjust="spacingAndGlyphs" stroke-width="0.50" letter-spacing="2.60" word-spacing="9.66">THE</text>
<text x="1305.89" y="220.69" font-size="37.17" textLength="57.77" lengthAdjust="spacingAndGlyphs" stroke-width="0.50" letter-spacing="2.60" word-spacing="9.66">THE</text>
<text x="1252.65" y="263.83" font-size="38.22" textLength="157.63" lengthAdjust="spacingAndGlyphs" stroke-width="0.50" letter-spacing="2.68" word-spacing="9.94">ORDINARY</text>
<text x="1253.80" y="263.83" font-size="38.22" textLength="157.63" lengthAdjust="spacingAndGlyphs" stroke-width="0.50" letter-spacing="2.68" word-spacing="9.94">ORDINARY</text>
<text x="1254.95" y="263.83" font-size="38.22" textLength="157.63" lengthAdjust="spacingAndGlyphs" stroke-width="0.50" letter-spacing="2.68" word-spacing="9.94">ORDINARY</text>
<text x="1249.90" y="307.42" font-size="38.05" textLength="162.61" lengthAdjust="spacingAndGlyphs" stroke-width="0.50" letter-spacing="2.66" word-spacing="9.89">HUMANITY</text>
<text x="1251.05" y="307.42" font-size="38.05" textLength="162.61" lengthAdjust="spacingAndGlyphs" stroke-width="0.50" letter-spacing="2.66" word-spacing="9.89">HUMANITY</text>
<text x="1252.20" y="307.42" font-size="38.05" textLength="162.61" lengthAdjust="spacingAndGlyphs" stroke-width="0.50" letter-spacing="2.66" word-spacing="9.89">HUMANITY</text>
<text x="1260.45" y="351.32" font-size="38.31" textLength="142.90" lengthAdjust="spacingAndGlyphs" stroke-width="0.50" letter-spacing="2.68" word-spacing="9.96">ARE NOW</text>
<text x="1261.60" y="351.32" font-size="38.31" textLength="142.90" lengthAdjust="spacingAndGlyphs" stroke-width="0.50" letter-spacing="2.68" word-spacing="9.96">ARE NOW</text>
<text x="1262.75" y="351.32" font-size="38.31" textLength="142.90" lengthAdjust="spacingAndGlyphs" stroke-width="0.50" letter-spacing="2.68" word-spacing="9.96">ARE NOW</text>
<text x="1237.61" y="395.16" font-size="38.34" textLength="187.25" lengthAdjust="spacingAndGlyphs" stroke-width="0.50" letter-spacing="2.68" word-spacing="9.97">ARCHANGELS</text>
<text x="1238.76" y="395.16" font-size="38.34" textLength="187.25" lengthAdjust="spacingAndGlyphs" stroke-width="0.50" letter-spacing="2.68" word-spacing="9.97">ARCHANGELS</text>
<text x="1239.91" y="395.16" font-size="38.34" textLength="187.25" lengthAdjust="spacingAndGlyphs" stroke-width="0.50" letter-spacing="2.68" word-spacing="9.97">ARCHANGELS</text>
<text x="1509.78" y="221.26" font-size="38.26" textLength="56.65" lengthAdjust="spacingAndGlyphs" stroke-width="0.50" letter-spacing="2.68" word-spacing="9.95">THE</text>
<text x="1510.93" y="221.26" font-size="38.26" textLength="56.65" lengthAdjust="spacingAndGlyphs" stroke-width="0.50" letter-spacing="2.68" word-spacing="9.95">THE</text>
<text x="1512.08" y="221.26" font-size="38.26" textLength="56.65" lengthAdjust="spacingAndGlyphs" stroke-width="0.50" letter-spacing="2.68" word-spacing="9.95">THE</text>
<text x="1472.31" y="265.02" font-size="38.04" textLength="127.54" lengthAdjust="spacingAndGlyphs" stroke-width="0.50" letter-spacing="2.66" word-spacing="9.89">HIGHEST</text>
<text x="1473.46" y="265.02" font-size="38.04" textLength="127.54" lengthAdjust="spacingAndGlyphs" stroke-width="0.50" letter-spacing="2.66" word-spacing="9.89">HIGHEST</text>
<text x="1474.61" y="265.02" font-size="38.04" textLength="127.54" lengthAdjust="spacingAndGlyphs" stroke-width="0.50" letter-spacing="2.66" word-spacing="9.89">HIGHEST</text>
<text x="1454.11" y="308.63" font-size="38.24" textLength="168.01" lengthAdjust="spacingAndGlyphs" stroke-width="0.50" letter-spacing="2.68" word-spacing="9.94">INITIATE IS</text>
<text x="1455.26" y="308.63" font-size="38.24" textLength="168.01" lengthAdjust="spacingAndGlyphs" stroke-width="0.50" letter-spacing="2.68" word-spacing="9.94">INITIATE IS</text>
<text x="1456.41" y="308.63" font-size="38.24" textLength="168.01" lengthAdjust="spacingAndGlyphs" stroke-width="0.50" letter-spacing="2.68" word-spacing="9.94">INITIATE IS</text>
<text x="1440.09" y="352.41" font-size="38.24" textLength="193.73" lengthAdjust="spacingAndGlyphs" stroke-width="0.50" letter-spacing="2.68" word-spacing="9.94">JEHOVAH THE</text>
<text x="1441.24" y="352.41" font-size="38.24" textLength="193.73" lengthAdjust="spacingAndGlyphs" stroke-width="0.50" letter-spacing="2.68" word-spacing="9.94">JEHOVAH THE</text>
<text x="1442.39" y="352.41" font-size="38.24" textLength="193.73" lengthAdjust="spacingAndGlyphs" stroke-width="0.50" letter-spacing="2.68" word-spacing="9.94">JEHOVAH THE</text>
<text x="1442.65" y="395.53" font-size="38.43" textLength="185.25" lengthAdjust="spacingAndGlyphs" stroke-width="0.50" letter-spacing="2.69" word-spacing="9.99">HOLY SPIRIT</text>
<text x="1443.80" y="395.53" font-size="38.43" textLength="185.25" lengthAdjust="spacingAndGlyphs" stroke-width="0.50" letter-spacing="2.69" word-spacing="9.99">HOLY SPIRIT</text>
<text x="1444.95" y="395.53" font-size="38.43" textLength="185.25" lengthAdjust="spacingAndGlyphs" stroke-width="0.50" letter-spacing="2.69" word-spacing="9.99">HOLY SPIRIT</text>
<text x="1724.68" y="219.17" font-size="37.41" textLength="56.61" lengthAdjust="spacingAndGlyphs" stroke-width="0.50" letter-spacing="2.62" word-spacing="9.73">THE</text>
<text x="1725.83" y="219.17" font-size="37.41" textLength="56.61" lengthAdjust="spacingAndGlyphs" stroke-width="0.50" letter-spacing="2.62" word-spacing="9.73">THE</text>
<text x="1726.98" y="219.17" font-size="37.41" textLength="56.61" lengthAdjust="spacingAndGlyphs" stroke-width="0.50" letter-spacing="2.62" word-spacing="9.73">THE</text>
<text x="1672.83" y="262.70" font-size="37.55" textLength="156.47" lengthAdjust="spacingAndGlyphs" stroke-width="0.50" letter-spacing="2.63" word-spacing="9.76">ORDINARY</text>
<text x="1673.98" y="262.70" font-size="37.55" textLength="156.47" lengthAdjust="spacingAndGlyphs" stroke-width="0.50" letter-spacing="2.63" word-spacing="9.76">ORDINARY</text>
<text x="1675.13" y="262.70" font-size="37.55" textLength="156.47" lengthAdjust="spacingAndGlyphs" stroke-width="0.50" letter-spacing="2.63" word-spacing="9.76">ORDINARY</text>
<text x="1669.28" y="307.22" font-size="37.97" textLength="161.50" lengthAdjust="spacingAndGlyphs" stroke-width="0.50" letter-spacing="2.66" word-spacing="9.87">HUMANITY</text>
<text x="1670.43" y="307.22" font-size="37.97" textLength="161.50" lengthAdjust="spacingAndGlyphs" stroke-width="0.50" letter-spacing="2.66" word-spacing="9.87">HUMANITY</text>
<text x="1671.58" y="307.22" font-size="37.97" textLength="161.50" lengthAdjust="spacingAndGlyphs" stroke-width="0.50" letter-spacing="2.66" word-spacing="9.87">HUMANITY</text>
<text x="1680.15" y="350.53" font-size="38.29" textLength="141.48" lengthAdjust="spacingAndGlyphs" stroke-width="0.50" letter-spacing="2.68" word-spacing="9.96">ARE NOW</text>
<text x="1681.30" y="350.53" font-size="38.29" textLength="141.48" lengthAdjust="spacingAndGlyphs" stroke-width="0.50" letter-spacing="2.68" word-spacing="9.96">ARE NOW</text>
<text x="1682.45" y="350.53" font-size="38.29" textLength="141.48" lengthAdjust="spacingAndGlyphs" stroke-width="0.50" letter-spacing="2.68" word-spacing="9.96">ARE NOW</text>
<text x="1692.54" y="393.70" font-size="38.25" textLength="116.90" lengthAdjust="spacingAndGlyphs" stroke-width="0.50" letter-spacing="2.68" word-spacing="9.94">ANGELS</text>
<text x="1693.69" y="393.70" font-size="38.25" textLength="116.90" lengthAdjust="spacingAndGlyphs" stroke-width="0.50" letter-spacing="2.68" word-spacing="9.94">ANGELS</text>
<text x="1694.84" y="393.70" font-size="38.25" textLength="116.90" lengthAdjust="spacingAndGlyphs" stroke-width="0.50" letter-spacing="2.68" word-spacing="9.94">ANGELS</text>
<text x="29.87" y="471.40" font-size="47.29" textLength="25.73" lengthAdjust="spacingAndGlyphs" stroke-width="0.60">3</text>
<text x="30.87" y="471.40" font-size="47.29" textLength="25.73" lengthAdjust="spacingAndGlyphs" stroke-width="0.60">3</text>
<text x="31.87" y="471.40" font-size="47.29" textLength="25.73" lengthAdjust="spacingAndGlyphs" stroke-width="0.60">3</text>
<text x="29.46" y="540.80" font-size="47.48" textLength="26.23" lengthAdjust="spacingAndGlyphs" stroke-width="0.60">2</text>
<text x="30.46" y="540.80" font-size="47.48" textLength="26.23" lengthAdjust="spacingAndGlyphs" stroke-width="0.60">2</text>
<text x="31.46" y="540.80" font-size="47.48" textLength="26.23" lengthAdjust="spacingAndGlyphs" stroke-width="0.60">2</text>
<text x="29.10" y="679.89" font-size="48.35" textLength="26.70" lengthAdjust="spacingAndGlyphs" stroke-width="0.60">0</text>
<text x="30.10" y="679.89" font-size="48.35" textLength="26.70" lengthAdjust="spacingAndGlyphs" stroke-width="0.60">0</text>
<text x="31.10" y="679.89" font-size="48.35" textLength="26.70" lengthAdjust="spacingAndGlyphs" stroke-width="0.60">0</text>
<text x="22.39" y="747.66" font-size="48.35" textLength="23.50" lengthAdjust="spacingAndGlyphs" stroke-width="0.60">9</text>
<text x="23.39" y="747.66" font-size="48.35" textLength="23.50" lengthAdjust="spacingAndGlyphs" stroke-width="0.60">9</text>
<text x="24.39" y="747.66" font-size="48.35" textLength="23.50" lengthAdjust="spacingAndGlyphs" stroke-width="0.60">9</text>
<text x="22.44" y="818.51" font-size="48.25" textLength="21.86" lengthAdjust="spacingAndGlyphs" stroke-width="0.60">8</text>
<text x="23.44" y="818.51" font-size="48.25" textLength="21.86" lengthAdjust="spacingAndGlyphs" stroke-width="0.60">8</text>
<text x="24.44" y="818.51" font-size="48.25" textLength="21.86" lengthAdjust="spacingAndGlyphs" stroke-width="0.60">8</text>
<text x="22.44" y="887.34" font-size="46.17" textLength="21.00" lengthAdjust="spacingAndGlyphs" stroke-width="0.60">7</text>
<text x="23.44" y="887.34" font-size="46.17" textLength="21.00" lengthAdjust="spacingAndGlyphs" stroke-width="0.60">7</text>
<text x="24.44" y="887.34" font-size="46.17" textLength="21.00" lengthAdjust="spacingAndGlyphs" stroke-width="0.60">7</text>
<text x="21.50" y="956.20" font-size="47.71" textLength="22.65" lengthAdjust="spacingAndGlyphs" stroke-width="0.60">6</text>
<text x="22.50" y="956.20" font-size="47.71" textLength="22.65" lengthAdjust="spacingAndGlyphs" stroke-width="0.60">6</text>
<text x="23.50" y="956.20" font-size="47.71" textLength="22.65" lengthAdjust="spacingAndGlyphs" stroke-width="0.60">6</text>
<text x="21.34" y="1025.37" font-size="47.93" textLength="22.56" lengthAdjust="spacingAndGlyphs" stroke-width="0.60">5</text>
<text x="22.34" y="1025.37" font-size="47.93" textLength="22.56" lengthAdjust="spacingAndGlyphs" stroke-width="0.60">5</text>
<text x="23.34" y="1025.37" font-size="47.93" textLength="22.56" lengthAdjust="spacingAndGlyphs" stroke-width="0.60">5</text>
<text x="21.54" y="1096.16" font-size="50.52" textLength="19.03" lengthAdjust="spacingAndGlyphs" stroke-width="0.60">4</text>
<text x="22.54" y="1096.16" font-size="50.52" textLength="19.03" lengthAdjust="spacingAndGlyphs" stroke-width="0.60">4</text>
<text x="23.54" y="1096.16" font-size="50.52" textLength="19.03" lengthAdjust="spacingAndGlyphs" stroke-width="0.60">4</text>
<text x="21.23" y="1166.81" font-size="49.15" textLength="20.10" lengthAdjust="spacingAndGlyphs" stroke-width="0.60">3</text>
<text x="22.23" y="1166.81" font-size="49.15" textLength="20.10" lengthAdjust="spacingAndGlyphs" stroke-width="0.60">3</text>
<text x="23.23" y="1166.81" font-size="49.15" textLength="20.10" lengthAdjust="spacingAndGlyphs" stroke-width="0.60">3</text>
<text x="20.85" y="1236.31" font-size="47.57" textLength="21.45" lengthAdjust="spacingAndGlyphs" stroke-width="0.60">2</text>
<text x="21.85" y="1236.31" font-size="47.57" textLength="21.45" lengthAdjust="spacingAndGlyphs" stroke-width="0.60">2</text>
<text x="22.85" y="1236.31" font-size="47.57" textLength="21.45" lengthAdjust="spacingAndGlyphs" stroke-width="0.60">2</text>
<text x="73.48" y="446.56" font-size="29.55" textLength="150.79" lengthAdjust="spacingAndGlyphs" stroke-width="0.50" letter-spacing="2.07" word-spacing="7.68">ALTOGETHER</text>
<text x="74.63" y="446.56" font-size="29.55" textLength="150.79" lengthAdjust="spacingAndGlyphs" stroke-width="0.50" letter-spacing="2.07" word-spacing="7.68">ALTOGETHER</text>
<text x="75.78" y="446.56" font-size="29.55" textLength="150.79" lengthAdjust="spacingAndGlyphs" stroke-width="0.50" letter-spacing="2.07" word-spacing="7.68">ALTOGETHER</text>
<text x="311.36" y="461.00" font-size="38.06" textLength="106.12" lengthAdjust="spacingAndGlyphs" stroke-width="0.50" letter-spacing="2.66" word-spacing="9.90">WORLD</text>
<text x="312.51" y="461.00" font-size="38.06" textLength="106.12" lengthAdjust="spacingAndGlyphs" stroke-width="0.50" letter-spacing="2.66" word-spacing="9.90">WORLD</text>
<text x="313.66" y="461.00" font-size="38.06" textLength="106.12" lengthAdjust="spacingAndGlyphs" stroke-width="0.50" letter-spacing="2.66" word-spacing="9.90">WORLD</text>
<text x="344.28" y="532.47" font-size="37.69" textLength="39.00" lengthAdjust="spacingAndGlyphs" stroke-width="0.50" letter-spacing="2.64" word-spacing="9.80">OF</text>
<text x="345.43" y="532.47" font-size="37.69" textLength="39.00" lengthAdjust="spacingAndGlyphs" stroke-width="0.50" letter-spacing="2.64" word-spacing="9.80">OF</text>
<text x="346.58" y="532.47" font-size="37.69" textLength="39.00" lengthAdjust="spacingAndGlyphs" stroke-width="0.50" letter-spacing="2.64" word-spacing="9.80">OF</text>
<text x="332.12" y="605.40" font-size="40.02" textLength="62.73" lengthAdjust="spacingAndGlyphs" stroke-width="0.50" letter-spacing="2.80" word-spacing="10.40">GOD</text>
<text x="333.27" y="605.40" font-size="40.02" textLength="62.73" lengthAdjust="spacingAndGlyphs" stroke-width="0.50" letter-spacing="2.80" word-spacing="10.40">GOD</text>
<text x="334.42" y="605.40" font-size="40.02" textLength="62.73" lengthAdjust="spacingAndGlyphs" stroke-width="0.50" letter-spacing="2.80" word-spacing="10.40">GOD</text>
<text x="290.24" y="673.02" font-size="38.00" textLength="154.45" lengthAdjust="spacingAndGlyphs" stroke-width="0.50" letter-spacing="2.66" word-spacing="9.88">WORLD OF</text>
<text x="291.39" y="673.02" font-size="38.00" textLength="154.45" lengthAdjust="spacingAndGlyphs" stroke-width="0.50" letter-spacing="2.66" word-spacing="9.88">WORLD OF</text>
<text x="292.54" y="673.02" font-size="38.00" textLength="154.45" lengthAdjust="spacingAndGlyphs" stroke-width="0.50" letter-spacing="2.66" word-spacing="9.88">WORLD OF</text>
<text x="316.32" y="744.60" font-size="38.34" textLength="102.46" lengthAdjust="spacingAndGlyphs" stroke-width="0.50" letter-spacing="2.68" word-spacing="9.97">VIRGIN</text>
<text x="317.47" y="744.60" font-size="38.34" textLength="102.46" lengthAdjust="spacingAndGlyphs" stroke-width="0.50" letter-spacing="2.68" word-spacing="9.97">VIRGIN</text>
<text x="318.62" y="744.60" font-size="38.34" textLength="102.46" lengthAdjust="spacingAndGlyphs" stroke-width="0.50" letter-spacing="2.68" word-spacing="9.97">VIRGIN</text>
<text x="307.09" y="816.87" font-size="38.42" textLength="119.48" lengthAdjust="spacingAndGlyphs" stroke-width="0.50" letter-spacing="2.69" word-spacing="9.99">SPIRITS</text>
<text x="308.24" y="816.87" font-size="38.42" textLength="119.48" lengthAdjust="spacingAndGlyphs" stroke-width="0.50" letter-spacing="2.69" word-spacing="9.99">SPIRITS</text>
<text x="309.39" y="816.87" font-size="38.42" textLength="119.48" lengthAdjust="spacingAndGlyphs" stroke-width="0.50" letter-spacing="2.69" word-spacing="9.99">SPIRITS</text>
<text x="177.11" y="881.46" font-size="38.34" textLength="375.11" lengthAdjust="spacingAndGlyphs" stroke-width="0.50" letter-spacing="2.68" word-spacing="9.97">WORLD OF DIVINE SPIRIT</text>
<text x="178.26" y="881.46" font-size="38.34" textLength="375.11" lengthAdjust="spacingAndGlyphs" stroke-width="0.50" letter-spacing="2.68" word-spacing="9.97">WORLD OF DIVINE SPIRIT</text>
<text x="179.41" y="881.46" font-size="38.34" textLength="375.11" lengthAdjust="spacingAndGlyphs" stroke-width="0.50" letter-spacing="2.68" word-spacing="9.97">WORLD OF DIVINE SPIRIT</text>
<text x="196.34" y="947.29" font-size="36.59" textLength="337.36" lengthAdjust="spacingAndGlyphs" stroke-width="0.50" letter-spacing="2.56" word-spacing="9.51">WORLD OF LIFE SPIRIT</text>
<text x="197.49" y="947.29" font-size="36.59" textLength="337.36" lengthAdjust="spacingAndGlyphs" stroke-width="0.50" letter-spacing="2.56" word-spacing="9.51">WORLD OF LIFE SPIRIT</text>
<text x="198.64" y="947.29" font-size="36.59" textLength="337.36" lengthAdjust="spacingAndGlyphs" stroke-width="0.50" letter-spacing="2.56" word-spacing="9.51">WORLD OF LIFE SPIRIT</text>
<text x="233.86" y="999.64" font-size="36.81" textLength="335.95" lengthAdjust="spacingAndGlyphs" stroke-width="0.50" letter-spacing="2.58" word-spacing="9.57">REGION OF ABSTRACT</text>
<text x="235.01" y="999.64" font-size="36.81" textLength="335.95" lengthAdjust="spacingAndGlyphs" stroke-width="0.50" letter-spacing="2.58" word-spacing="9.57">REGION OF ABSTRACT</text>
<text x="236.16" y="999.64" font-size="36.81" textLength="335.95" lengthAdjust="spacingAndGlyphs" stroke-width="0.50" letter-spacing="2.58" word-spacing="9.57">REGION OF ABSTRACT</text>
<text x="334.09" y="1032.69" font-size="35.54" textLength="140.55" lengthAdjust="spacingAndGlyphs" stroke-width="0.50" letter-spacing="2.49" word-spacing="9.24">THOUGHT</text>
<text x="335.24" y="1032.69" font-size="35.54" textLength="140.55" lengthAdjust="spacingAndGlyphs" stroke-width="0.50" letter-spacing="2.49" word-spacing="9.24">THOUGHT</text>
<text x="336.39" y="1032.69" font-size="35.54" textLength="140.55" lengthAdjust="spacingAndGlyphs" stroke-width="0.50" letter-spacing="2.49" word-spacing="9.24">THOUGHT</text>
<text x="238.84" y="1069.94" font-size="36.47" textLength="336.42" lengthAdjust="spacingAndGlyphs" stroke-width="0.50" letter-spacing="2.55" word-spacing="9.48">REGION OF CONCRETE</text>
<text x="239.99" y="1069.94" font-size="36.47" textLength="336.42" lengthAdjust="spacingAndGlyphs" stroke-width="0.50" letter-spacing="2.55" word-spacing="9.48">REGION OF CONCRETE</text>
<text x="241.14" y="1069.94" font-size="36.47" textLength="336.42" lengthAdjust="spacingAndGlyphs" stroke-width="0.50" letter-spacing="2.55" word-spacing="9.48">REGION OF CONCRETE</text>
<text x="339.13" y="1103.37" font-size="36.71" textLength="138.50" lengthAdjust="spacingAndGlyphs" stroke-width="0.50" letter-spacing="2.57" word-spacing="9.54">THOUGHT</text>
<text x="340.28" y="1103.37" font-size="36.71" textLength="138.50" lengthAdjust="spacingAndGlyphs" stroke-width="0.50" letter-spacing="2.57" word-spacing="9.54">THOUGHT</text>
<text x="341.43" y="1103.37" font-size="36.71" textLength="138.50" lengthAdjust="spacingAndGlyphs" stroke-width="0.50" letter-spacing="2.57" word-spacing="9.54">THOUGHT</text>
<text x="251.51" y="1157.28" font-size="37.32" textLength="225.07" lengthAdjust="spacingAndGlyphs" stroke-width="0.50" letter-spacing="2.61" word-spacing="9.70">DESIRE WORLD</text>
<text x="252.66" y="1157.28" font-size="37.32" textLength="225.07" lengthAdjust="spacingAndGlyphs" stroke-width="0.50" letter-spacing="2.61" word-spacing="9.70">DESIRE WORLD</text>
<text x="253.81" y="1157.28" font-size="37.32" textLength="225.07" lengthAdjust="spacingAndGlyphs" stroke-width="0.50" letter-spacing="2.61" word-spacing="9.70">DESIRE WORLD</text>
<text x="280.78" y="1227.27" font-size="37.52" textLength="253.64" lengthAdjust="spacingAndGlyphs" stroke-width="0.50" letter-spacing="2.63" word-spacing="9.76">ETHERIC REGION</text>
<text x="281.93" y="1227.27" font-size="37.52" textLength="253.64" lengthAdjust="spacingAndGlyphs" stroke-width="0.50" letter-spacing="2.63" word-spacing="9.76">ETHERIC REGION</text>
<text x="283.08" y="1227.27" font-size="37.52" textLength="253.64" lengthAdjust="spacingAndGlyphs" stroke-width="0.50" letter-spacing="2.63" word-spacing="9.76">ETHERIC REGION</text>
<text x="269.90" y="1296.47" font-size="37.71" textLength="280.36" lengthAdjust="spacingAndGlyphs" stroke-width="0.50" letter-spacing="2.64" word-spacing="9.80">CHEMICAL REGION</text>
<text x="271.05" y="1296.47" font-size="37.71" textLength="280.36" lengthAdjust="spacingAndGlyphs" stroke-width="0.50" letter-spacing="2.64" word-spacing="9.80">CHEMICAL REGION</text>
<text x="272.20" y="1296.47" font-size="37.71" textLength="280.36" lengthAdjust="spacingAndGlyphs" stroke-width="0.50" letter-spacing="2.64" word-spacing="9.80">CHEMICAL REGION</text>
<text x="908.30" y="1225.37" font-size="37.81" textLength="93.91" lengthAdjust="spacingAndGlyphs" stroke-width="0.50" letter-spacing="2.65" word-spacing="9.83">JESUS</text>
<text x="909.45" y="1225.37" font-size="37.81" textLength="93.91" lengthAdjust="spacingAndGlyphs" stroke-width="0.50" letter-spacing="2.65" word-spacing="9.83">JESUS</text>
<text x="910.60" y="1225.37" font-size="37.81" textLength="93.91" lengthAdjust="spacingAndGlyphs" stroke-width="0.50" letter-spacing="2.65" word-spacing="9.83">JESUS</text>
<text x="893.15" y="1294.33" font-size="37.38" textLength="111.30" lengthAdjust="spacingAndGlyphs" stroke-width="0.50" letter-spacing="2.62" word-spacing="9.72">BODIES</text>
<text x="894.30" y="1294.33" font-size="37.38" textLength="111.30" lengthAdjust="spacingAndGlyphs" stroke-width="0.50" letter-spacing="2.62" word-spacing="9.72">BODIES</text>
<text x="895.45" y="1294.33" font-size="37.38" textLength="111.30" lengthAdjust="spacingAndGlyphs" stroke-width="0.50" letter-spacing="2.62" word-spacing="9.72">BODIES</text>
<text x="819.14" y="1372.67" font-size="30.06" textLength="209.24" lengthAdjust="spacingAndGlyphs" stroke-width="0.60" letter-spacing="2.10" word-spacing="-4.21">DIAGRAM 14</text>
<text x="820.74" y="1372.67" font-size="30.06" textLength="209.24" lengthAdjust="spacingAndGlyphs" stroke-width="0.60" letter-spacing="2.10" word-spacing="-4.21">DIAGRAM 14</text>
<text transform="translate(170.92,1103.61) rotate(-90)" x="-1.00" y="0" font-size="29.56" textLength="126.44" lengthAdjust="spacingAndGlyphs" stroke-width="0.60" letter-spacing="1.33">WORLD OF</text>
<text transform="translate(170.92,1103.61) rotate(-90)" x="0.00" y="0" font-size="29.56" textLength="126.44" lengthAdjust="spacingAndGlyphs" stroke-width="0.60" letter-spacing="1.33">WORLD OF</text>
<text transform="translate(170.92,1103.61) rotate(-90)" x="1.00" y="0" font-size="29.56" textLength="126.44" lengthAdjust="spacingAndGlyphs" stroke-width="0.60" letter-spacing="1.33">WORLD OF</text>
<text transform="translate(207.36,1098.40) rotate(-90)" x="-1.00" y="0" font-size="29.83" textLength="115.41" lengthAdjust="spacingAndGlyphs" stroke-width="0.60" letter-spacing="1.34">THOUGHT</text>
<text transform="translate(207.36,1098.40) rotate(-90)" x="0.00" y="0" font-size="29.83" textLength="115.41" lengthAdjust="spacingAndGlyphs" stroke-width="0.60" letter-spacing="1.34">THOUGHT</text>
<text transform="translate(207.36,1098.40) rotate(-90)" x="1.00" y="0" font-size="29.83" textLength="115.41" lengthAdjust="spacingAndGlyphs" stroke-width="0.60" letter-spacing="1.34">THOUGHT</text>
<text transform="translate(172.19,1305.55) rotate(-90)" x="-1.00" y="0" font-size="31.28" textLength="121.71" lengthAdjust="spacingAndGlyphs" stroke-width="0.60" letter-spacing="1.41">PHYSICAL</text>
<text transform="translate(172.19,1305.55) rotate(-90)" x="0.00" y="0" font-size="31.28" textLength="121.71" lengthAdjust="spacingAndGlyphs" stroke-width="0.60" letter-spacing="1.41">PHYSICAL</text>
<text transform="translate(172.19,1305.55) rotate(-90)" x="1.00" y="0" font-size="31.28" textLength="121.71" lengthAdjust="spacingAndGlyphs" stroke-width="0.60" letter-spacing="1.41">PHYSICAL</text>
<text transform="translate(211.41,1287.86) rotate(-90)" x="-1.00" y="0" font-size="32.10" textLength="86.76" lengthAdjust="spacingAndGlyphs" stroke-width="0.60" letter-spacing="1.44">WORLD</text>
<text transform="translate(211.41,1287.86) rotate(-90)" x="0.00" y="0" font-size="32.10" textLength="86.76" lengthAdjust="spacingAndGlyphs" stroke-width="0.60" letter-spacing="1.44">WORLD</text>
<text transform="translate(211.41,1287.86) rotate(-90)" x="1.00" y="0" font-size="32.10" textLength="86.76" lengthAdjust="spacingAndGlyphs" stroke-width="0.60" letter-spacing="1.44">WORLD</text>
</g>
</g>
</svg>
</body></html>
